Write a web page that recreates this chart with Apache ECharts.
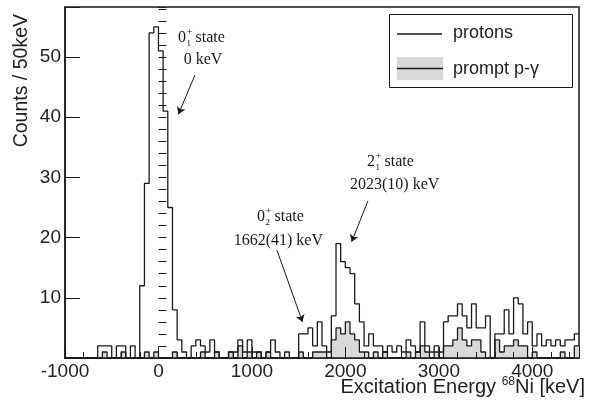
<!DOCTYPE html>
<html>
<head>
<meta charset="utf-8">
<script src="https://cdn.jsdelivr.net/npm/echarts@6/dist/echarts.min.js"></script>
<style>
html,body{margin:0;padding:0;background:#fff;}
#chart{width:598px;height:403px;}
</style>
</head>
<body>
<div id="chart"></div>
<script>
// ---- data ----
const binStart = -1000;   // keV, low edge of first bin
const binWidth = 50;      // keV per bin
const protons = [
  0,0,0,0,0,0,0,2,2,2,
  0,2,2,0,2,0,12,29,54,55,
  51,41,25,8,3,1,0,2,3,2,
  1,3,1,0,0,1,1,3,1,3,
  1,1,0,1,3,1,0,1,0,0,
  4,4,5,2,6,2,1,7,19,16,
  15,14,9,6,2,4,2,2,1,2,
  1,2,1,3,2,1,6,2,1,2,
  1,6,7,7,9,7,5,9,5,5,
  7,0,4,4,8,4,10,9,4,6,
  2,4,2,3,2,3,2,3,3,4
];
const promptPG = [
  0,0,0,0,0,0,0,0,1,0,
  0,0,1,0,0,0,0,1,0,1,
  0,0,0,1,0,0,0,0,0,1,
  0,0,1,0,0,1,0,2,0,1,
  0,1,0,1,0,0,0,0,0,0,
  1,0,0,1,1,1,0,3,5,4,
  6,4,3,1,1,0,1,0,1,0,
  0,0,0,1,0,1,2,1,0,1,
  0,2,2,3,5,3,2,3,3,1,
  0,0,3,1,2,2,3,2,2,0,
  1,0,0,0,0,0,1,0,0,2
];
const xTickLabels = [-1000, 0, 1000, 2000, 3000, 4000];
const yTickLabels = [10, 20, 30, 40, 50];
// annotation arrows: [startKeV, startCounts, tipKeV, tipCounts]
const arrows = [
  [391, 47.0, 214, 40.5],
  [2242, 26.1, 2067, 19.3],
  [1268, 17.9, 1541, 6.0]
];

function stepData(vals) {
  const d = vals.map((v, i) => [binStart + i * binWidth, v]);
  d.push([binStart + vals.length * binWidth, vals[vals.length - 1]]);
  return d;
}

const SANS = '"Liberation Sans", Arial, sans-serif';
const SERIF = '"Liberation Serif", "Times New Roman", serif';
const INK = '#1a1a1a';

function stateLabel(L, Y, digit, sub) {
  return [
    {type:'text', x:L, y:Y, z:20, style:{text:digit, font:'16px ' + SERIF, fill:INK, align:'left', verticalAlign:'middle'}},
    {type:'text', x:L + 8.5, y:Y - 6, z:20, style:{text:'+', font:'11px ' + SERIF, fill:INK, align:'left', verticalAlign:'middle'}},
    {type:'text', x:L + 8.5, y:Y + 6, z:20, style:{text:sub, font:'9px ' + SERIF, fill:INK, align:'left', verticalAlign:'middle'}},
    {type:'text', x:L + 17.5, y:Y, z:20, style:{text:'state', font:'16px ' + SERIF, fill:INK, align:'left', verticalAlign:'middle'}}
  ];
}

const graphics = [].concat(
  // y-axis title
  [{type:'text', x:22, y:14, rotation:Math.PI / 2, z:20,
    style:{text:'Counts / 50keV', font:'19.5px ' + SANS, fill:'#222', align:'right', verticalAlign:'middle'}}],
  // x-axis title with superscript
  [{type:'text', x:585, y:376, z:20,
    style:{text:'{n|Excitation Energy }{s|68}{n|Ni [keV]}', align:'right', verticalAlign:'top', fill:'#222',
      rich:{n:{fontSize:20, fontFamily:SANS, lineHeight:22, fill:'#222'},
            s:{fontSize:12, fontFamily:SANS, lineHeight:12, verticalAlign:'top', fill:'#222'}}}}],
  // annotations
  stateLabel(178, 38, '0', '1'),
  [{type:'text', x:203, y:60, z:20, style:{text:'0 keV', font:'16px ' + SERIF, fill:INK, align:'center', verticalAlign:'middle'}}],
  stateLabel(367, 162, '2', '1'),
  [{type:'text', x:350, y:185, z:20, style:{text:'2023(10) keV', font:'16px ' + SERIF, fill:INK, align:'left', verticalAlign:'middle'}}],
  stateLabel(257, 217, '0', '2'),
  [{type:'text', x:323, y:241, z:20, style:{text:'1662(41) keV', font:'16px ' + SERIF, fill:INK, align:'right', verticalAlign:'middle'}}],
  // legend
  [
    {type:'rect', z:20, shape:{x:389.5, y:14.5, width:183, height:73}, style:{fill:'#fff', stroke:INK, lineWidth:1}},
    {type:'line', z:21, shape:{x1:397, y1:34, x2:442, y2:34}, style:{stroke:INK, lineWidth:1.3}},
    {type:'rect', z:21, shape:{x:397, y:57, width:46, height:23}, style:{fill:'#d9d9d9'}},
    {type:'line', z:22, shape:{x1:397, y1:68.5, x2:443, y2:68.5}, style:{stroke:INK, lineWidth:1.3}},
    {type:'text', z:22, x:453, y:33, style:{text:'protons', font:'18px ' + SANS, fill:'#222', align:'left', verticalAlign:'middle'}},
    {type:'text', z:22, x:453, y:69, style:{text:'prompt p-γ', font:'18px ' + SANS, fill:'#222', align:'left', verticalAlign:'middle'}}
  ]
);

const chart = echarts.init(document.getElementById('chart'), null, {renderer:'canvas'});
const xMin = -1000, xMax = 4500, yMin = 0, yMax = 58.3;

chart.setOption({
  animation:false,
  backgroundColor:'#fff',
  grid:{left:65, right:19, top:7, bottom:45, show:true, borderColor:INK, borderWidth:1.5, backgroundColor:'transparent'},
  xAxis:[
    {type:'value', min:xMin, max:xMax, interval:1000, position:'bottom', z:5,
     axisLine:{show:true, onZero:false, lineStyle:{color:INK, width:1.5}},
     axisTick:{show:true, inside:true, length:11, lineStyle:{color:INK, width:1}},
     axisLabel:{formatter:v => xTickLabels.includes(v) ? String(v) : '', fontSize:19, fontFamily:SANS, color:'#222', margin:4},
     splitLine:{show:false}},
    {type:'value', min:xMin, max:xMax, interval:200, position:'bottom', z:5,
     axisLine:{show:false},
     axisTick:{show:true, inside:true, length:6, lineStyle:{color:INK, width:1}},
     axisLabel:{show:false}, splitLine:{show:false}}
  ],
  yAxis:[
    {type:'value', min:yMin, max:yMax, interval:10, position:'left', z:5,
     axisLine:{show:true, onZero:false, lineStyle:{color:INK, width:1.5}},
     axisTick:{show:true, inside:true, length:15, lineStyle:{color:INK, width:1}},
     axisLabel:{formatter:v => yTickLabels.includes(v) ? String(v) : '', fontSize:19, fontFamily:SANS, color:'#222', margin:4},
     splitLine:{show:false}},
    {type:'value', min:yMin, max:yMax, interval:2, position:'left', z:5,
     axisLine:{show:false},
     axisTick:{show:true, inside:true, length:8, lineStyle:{color:INK, width:1}},
     axisLabel:{show:false}, splitLine:{show:false}}
  ],
  series:[
    {type:'line', name:'protons', step:'end', data:stepData(protons), symbol:'none',
     xAxisIndex:0, yAxisIndex:0, z:3, silent:true,
     lineStyle:{color:INK, width:1.3},
     markLine:{silent:true, symbol:['none','arrow'], symbolSize:7, animation:false,
       label:{show:false}, lineStyle:{color:INK, width:1, type:'solid'},
       emphasis:{disabled:true},
       data:arrows.map(a => [{coord:[a[0], a[1]]}, {coord:[a[2], a[3]]}])}},
    {type:'line', name:'prompt p-γ', step:'end', data:stepData(promptPG), symbol:'none',
     xAxisIndex:0, yAxisIndex:0, z:2, silent:true,
     lineStyle:{color:INK, width:1.3},
     areaStyle:{color:'#d9d9d9', opacity:1}}
  ],
  graphic:graphics
});
</script>
</body>
</html>
